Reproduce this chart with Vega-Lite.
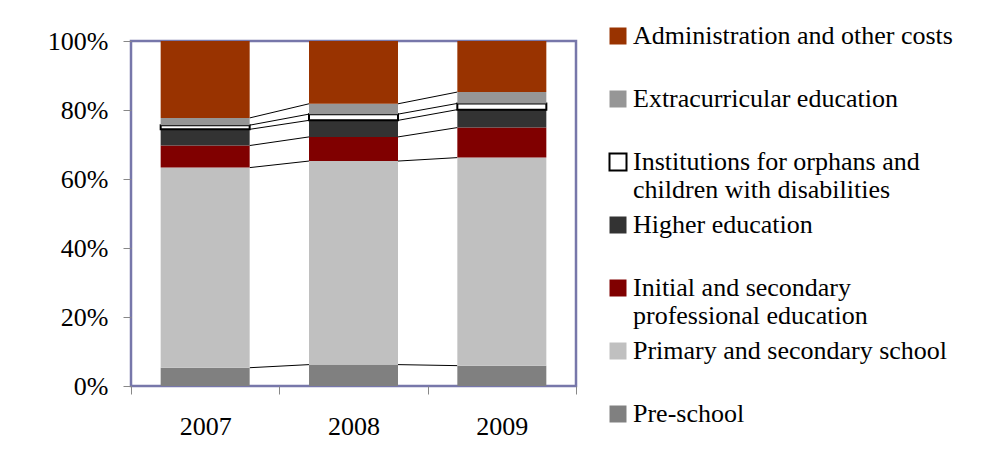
{
  "$schema": "https://vega.github.io/schema/vega-lite/v6.json",
  "autosize": "none",
  "padding": {"left": 131, "top": 41, "right": 406, "bottom": 73},
  "width": 445,
  "height": 345,
  "background": "white",
  "config": {
    "view": {"stroke": "#7777aa", "strokeWidth": 2.5},
    "font": "Liberation Serif",
    "axis": {
      "labelFont": "Liberation Serif",
      "labelFontSize": 26,
      "labelColor": "black",
      "tickColor": "#888888",
      "tickSize": 8,
      "grid": false,
      "domain": false,
      "title": null
    },
    "legend": {
      "orient": "none",
      "legendX": 474,
      "legendY": -18,
      "title": null,
      "symbolType": "square",
      "symbolSize": 289,
      "symbolStrokeColor": "black",
      "symbolStrokeWidth": {"expr": "datum.label === 'Institutions for orphans and children with disabilities' ? 2 : 0"},
      "labelFont": "Liberation Serif",
      "labelFontSize": 26,
      "labelColor": "black",
      "labelOffset": 2,
      "labelLimit": 500,
      "rowPadding": 9,
      "gridAlign": "all",
      "labelBaseline": "middle",
      "padding": 0
    }
  },
  "data": {
    "values": [
      {"year": "2007", "cat": "Pre-school", "ord": 1, "value": 5.3},
      {"year": "2007", "cat": "Primary and secondary school", "ord": 2, "value": 58.0},
      {"year": "2007", "cat": "Initial and secondary professional education", "ord": 3, "value": 6.4},
      {"year": "2007", "cat": "Higher education", "ord": 4, "value": 4.7},
      {"year": "2007", "cat": "Institutions for orphans and children with disabilities", "ord": 5, "value": 1.2},
      {"year": "2007", "cat": "Extracurricular education", "ord": 6, "value": 2.1},
      {"year": "2007", "cat": "Administration and other costs", "ord": 7, "value": 22.3},
      {"year": "2008", "cat": "Pre-school", "ord": 1, "value": 6.2},
      {"year": "2008", "cat": "Primary and secondary school", "ord": 2, "value": 59.0},
      {"year": "2008", "cat": "Initial and secondary professional education", "ord": 3, "value": 7.0},
      {"year": "2008", "cat": "Higher education", "ord": 4, "value": 4.8},
      {"year": "2008", "cat": "Institutions for orphans and children with disabilities", "ord": 5, "value": 1.8},
      {"year": "2008", "cat": "Extracurricular education", "ord": 6, "value": 3.0},
      {"year": "2008", "cat": "Administration and other costs", "ord": 7, "value": 18.2},
      {"year": "2009", "cat": "Pre-school", "ord": 1, "value": 5.9},
      {"year": "2009", "cat": "Primary and secondary school", "ord": 2, "value": 60.3},
      {"year": "2009", "cat": "Initial and secondary professional education", "ord": 3, "value": 8.7},
      {"year": "2009", "cat": "Higher education", "ord": 4, "value": 5.2},
      {"year": "2009", "cat": "Institutions for orphans and children with disabilities", "ord": 5, "value": 1.8},
      {"year": "2009", "cat": "Extracurricular education", "ord": 6, "value": 3.3},
      {"year": "2009", "cat": "Administration and other costs", "ord": 7, "value": 14.8}
    ]
  },
  "transform": [
    {"stack": "value", "groupby": ["year"], "sort": [{"field": "ord", "order": "ascending"}], "as": ["v0", "v1"]}
  ],
  "layer": [
    {
      "transform": [
        {"window": [{"op": "lead", "field": "v1", "as": "nv1"}, {"op": "lead", "field": "year", "as": "nyear"}], "groupby": ["cat"], "sort": [{"field": "year", "order": "ascending"}]},
        {"filter": "datum.nyear != null && datum.cat !== 'Administration and other costs'"}
      ],
      "mark": {"type": "rule", "color": "black", "strokeWidth": 1},
      "encoding": {
        "x": {"field": "year", "type": "ordinal", "bandPosition": 0.8},
        "x2": {"field": "nyear", "bandPosition": 0.2},
        "y": {"field": "v1", "type": "quantitative"},
        "y2": {"field": "nv1"}
      }
    },
    {
      "mark": {"type": "bar", "width": {"band": 0.6}},
      "encoding": {
        "x": {
          "field": "year",
          "type": "ordinal",
          "scale": {"paddingInner": 0, "paddingOuter": 0},
          "axis": {"tickBand": "extent", "labelAngle": 0, "labelAlign": "center", "labelPadding": 19, "labelBaseline": "top"}
        },
        "y": {
          "field": "v0",
          "type": "quantitative",
          "scale": {"domain": [0, 100], "nice": false},
          "axis": {"values": [0, 20, 40, 60, 80, 100], "labelExpr": "datum.value + '%'", "labelPadding": 15}
        },
        "y2": {"field": "v1"},
        "color": {
          "field": "cat",
          "type": "nominal",
          "scale": {
            "domain": [
              "Administration and other costs",
              "Extracurricular education",
              "Institutions for orphans and children with disabilities",
              "Higher education",
              "Initial and secondary professional education",
              "Primary and secondary school",
              "Pre-school"
            ],
            "range": ["#993300", "#969696", "#ffffff", "#333333", "#800000", "#c0c0c0", "#808080"]
          },
          "legend": {
            "labelExpr": "datum.label === 'Institutions for orphans and children with disabilities' ? ['Institutions for orphans and', 'children with disabilities'] : datum.label === 'Initial and secondary professional education' ? ['Initial and secondary', 'professional education'] : datum.label"
          }
        },
        "stroke": {
          "condition": {"test": "datum.cat === 'Institutions for orphans and children with disabilities'", "value": "black"},
          "value": "transparent"
        },
        "strokeWidth": {
          "condition": {"test": "datum.cat === 'Institutions for orphans and children with disabilities'", "value": 2},
          "value": 0
        }
      }
    }
  ]
}
